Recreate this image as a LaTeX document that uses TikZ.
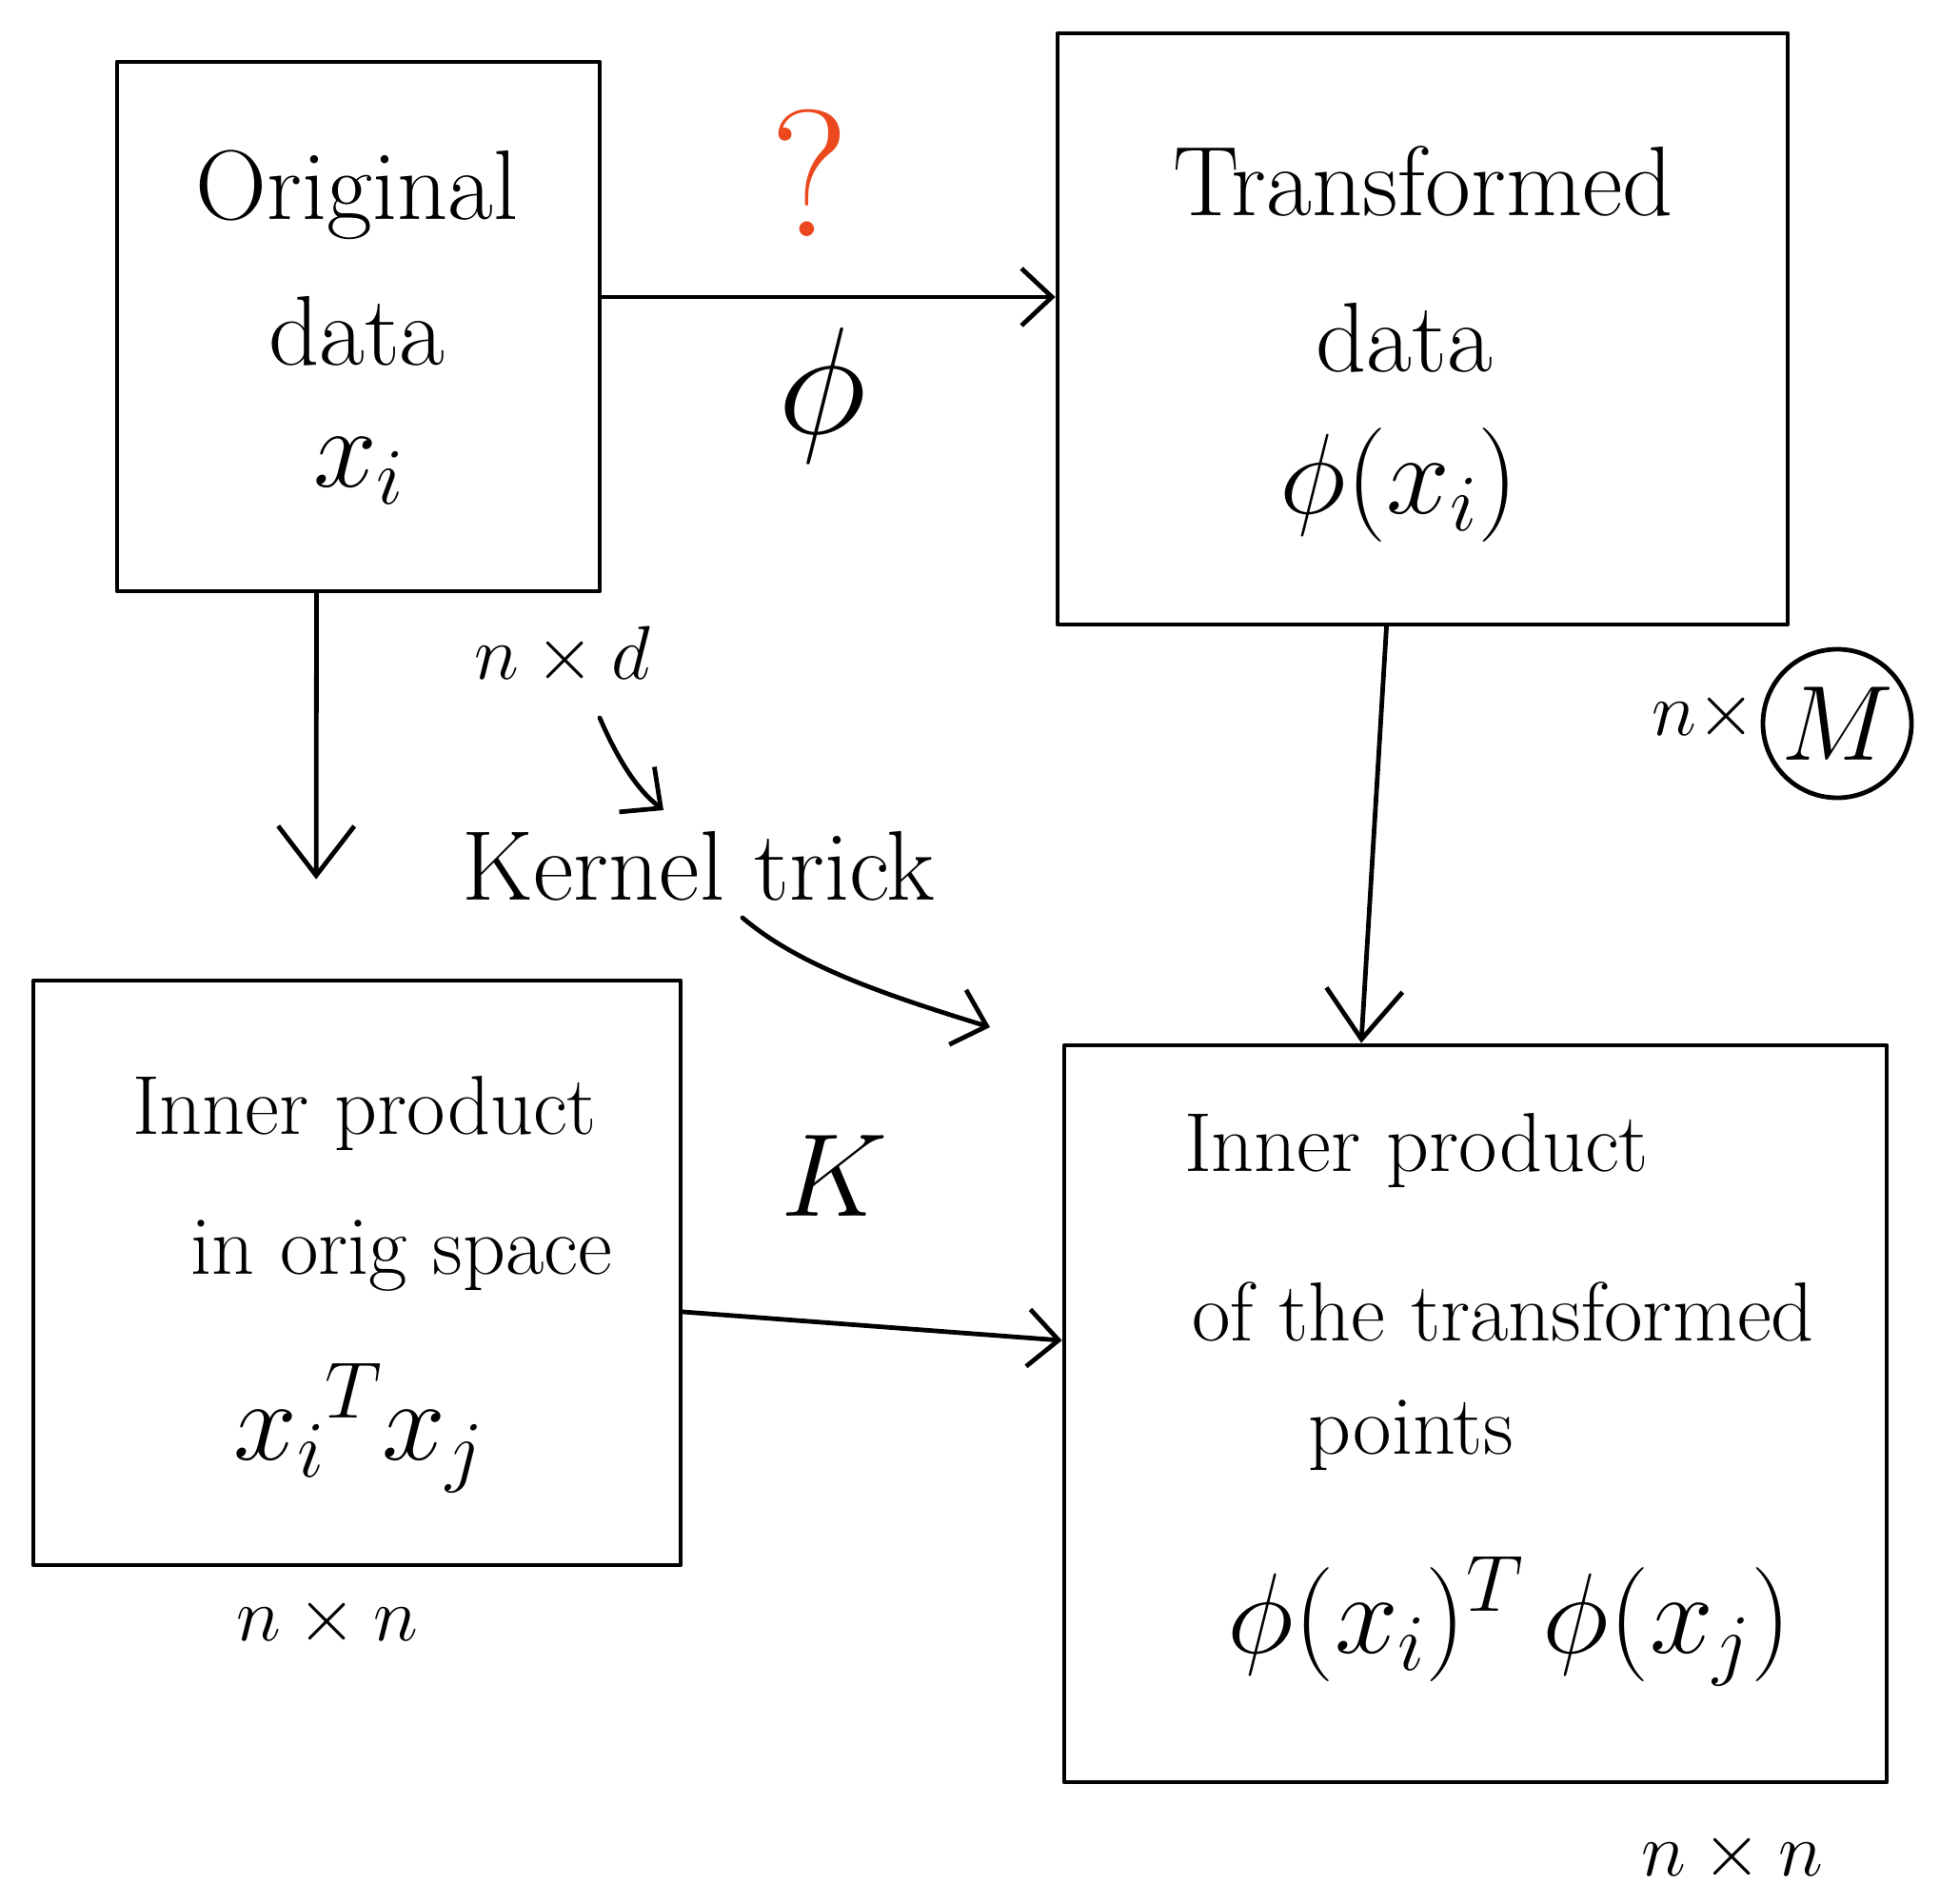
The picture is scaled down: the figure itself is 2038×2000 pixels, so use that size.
\RequirePackage{fix-cm}
\documentclass[tikz,border=0pt]{standalone}
\usetikzlibrary{arrows.meta,calc}
\definecolor{qmark}{RGB}{236,72,30}
\begin{document}
\begin{tikzpicture}[x=0.5pt,y=-0.5pt,
  stroke/.style={line width=2.4pt, line cap=round, line join=round},
  boxshape/.style={draw, stroke, rectangle, inner sep=0pt},
  arr/.style={stroke, -{Straight Barb[length=16pt,width=30pt,line width=2.4pt]}},
  bigarr/.style={stroke, -{Straight Barb[length=26pt,width=40pt,line width=2.4pt]}},
  btext/.style={font=\fontsize{52}{60}\selectfont, inner sep=0pt},
  stext/.style={font=\fontsize{44}{52}\selectfont, inner sep=0pt},
  ftext/.style={font=\fontsize{60}{70}\selectfont, inner sep=0pt},
  dimtext/.style={font=\fontsize{40}{48}\selectfont, inner sep=0pt}]
\useasboundingbox (0,0) rectangle (2038,2000);

% boxes
\node[boxshape, minimum width=253.5pt, minimum height=278pt] (b1) at (376.5,343) {};
\node[boxshape, minimum width=383.5pt, minimum height=310.5pt] (b2) at (1494.5,345.5) {};
\node[boxshape, minimum width=340pt, minimum height=307pt] (b3) at (375,1337) {};
\node[boxshape, minimum width=432pt, minimum height=387pt] (b4) at (1550,1485) {};

% box contents
\node[btext] (t1a) at (375,205) {Original};
\node[btext] (t1b) at (375,348) {data};
\node[ftext] (t1c) at (377,495) {$x_i$};

\node[btext] (t2a) at (1495,190) {Transformed};
\node[btext] (t2b) at (1475,355) {data};
\node[ftext] (t2c) at (1470,510) {$\phi(x_i)$};

\node[stext] (t3a) at (383,1170) {Inner product};
\node[stext] (t3b) at (422,1319) {in orig space};
\node[ftext] (t3c) at (377,1500) {${x_i}^{T} x_j$};

\node[stext] (t4a) at (1488,1209) {Inner product};
\node[stext] (t4b) at (1579,1378) {of the transformed};
\node[stext] (t4c) at (1482,1508) {points};
\node[ftext] (t4d) at (1586,1703) {$\phi(x_i)^{T}\,\phi(x_j)$};

% labels
\node[font=\fontsize{95}{100}\selectfont, text=qmark, inner sep=0pt] (q) at (851,182) {?};
\node[font=\fontsize{80}{90}\selectfont, inner sep=0pt] (phi) at (864,416) {$\phi$};
\node[dimtext] (nd) at (591,689) {$n \times d$};
\node[btext] (kt) at (734,910) {Kernel trick};
\node[font=\fontsize{62}{70}\selectfont, inner sep=0pt] (K) at (877,1235) {$K$};
\node[dimtext] (nx) at (1790,752) {$n \times$};
\node[font=\fontsize{56}{60}\selectfont, draw, stroke, circle, minimum size=78pt, inner sep=0pt] (M) at (1930,760) {$M$};
\node[dimtext] (nn1) at (344,1703) {$n \times n$};
\node[dimtext] (nn2) at (1820,1950) {$n \times n$};

% connectors
\draw[arr] ([yshift=15.5pt]b1.east) -- ([yshift=16.75pt]b2.west);
\draw[bigarr, shorten >=52pt] ([xshift=-22pt]b1.south) -- ([xshift=-21.5pt]b3.north);
\draw[bigarr] ([xshift=-19pt]b2.south) -- ([xshift=-60pt]b4.north);
\draw[arr] ([yshift=-20.5pt]b3.east) -- ([yshift=38.5pt]b4.west);
\coordinate (nds) at (630,754);
\coordinate (ktn) at (697,851);
\draw[arr] (nds) .. controls (650,800) and (670,830) .. (ktn);
\coordinate (kts) at (780,964);
\coordinate (kte) at (1040,1079);
\draw[arr] (kts) .. controls (840,1015) and (930,1045) .. (kte);
\end{tikzpicture}
\end{document}
